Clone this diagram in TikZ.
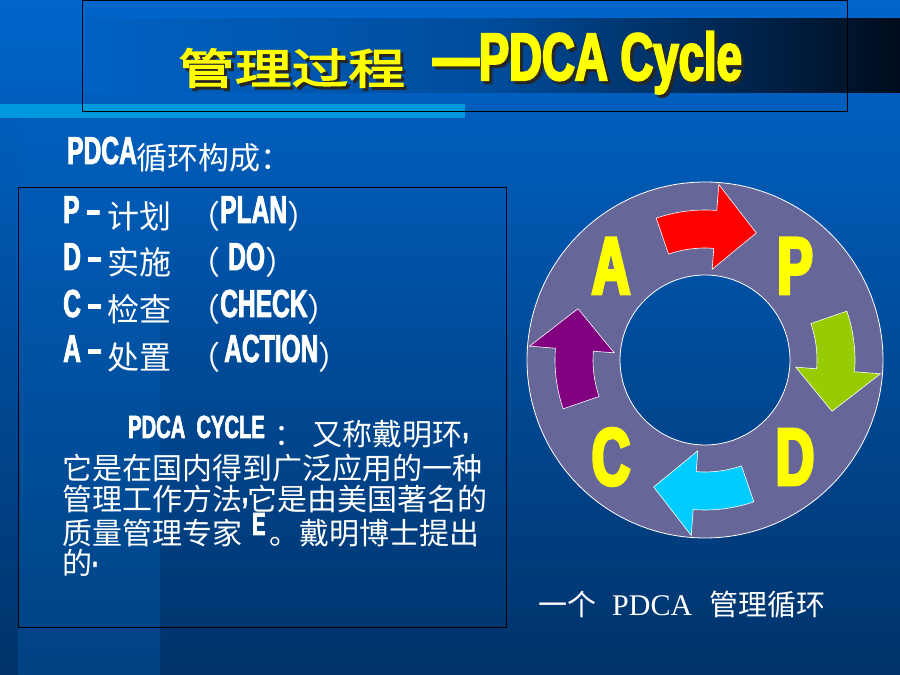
\documentclass[tikz,border=0pt]{standalone}
\usepackage{fontspec}
\usepackage{xcolor}
\usepackage{tikz}

\newfontfamily\cnfont{Noto Sans CJK SC}
\newfontfamily\cnttlfont[FakeStretch=1.35,FakeBold=3.5]{Noto Sans CJK SC}
\newfontfamily\latfont[UprightFont={* Bold},FakeStretch=0.63,FakeBold=2]{Liberation Sans}
\newfontfamily\ttlfont[UprightFont={* Bold},FakeStretch=0.68,FakeBold=3]{Liberation Sans}
\newfontfamily\ringfont[UprightFont={* Bold},FakeStretch=0.66,FakeBold=4]{Liberation Sans}
\newfontfamily\capfont{Liberation Serif}

\definecolor{bgtop}{HTML}{0066CC}
\definecolor{bgbot}{HTML}{00336A}
\definecolor{striptop}{HTML}{005EBC}
\definecolor{stripbot}{HTML}{004282}
\definecolor{bandleft}{HTML}{0062C4}
\definecolor{bandmid}{HTML}{004C9C}
\definecolor{bandright}{HTML}{000C1C}
\definecolor{lightstrip}{HTML}{0099DD}
\definecolor{ringfill}{HTML}{666699}
\definecolor{arrowred}{HTML}{FF0000}
\definecolor{arrowgreen}{HTML}{99CC00}
\definecolor{arrowcyan}{HTML}{00CCFF}
\definecolor{arrowpurple}{HTML}{800080}
\definecolor{ttlyellow}{HTML}{FFFF00}

\newcommand\latbox[2]{\raisebox{#1}{\latfont\fontsize{39}{39}\selectfont #2}}
\newcommand\latpar[2]{\raisebox{#1}{\latfont\fontsize{32}{32}\selectfont #2}}
\newcommand\cnbig{\cnfont\fontsize{32}{32}\selectfont}
\newcommand\cnpar{\cnfont\fontsize{30}{30}\selectfont}

\begin{document}
\begin{tikzpicture}[x=1pt, y=1pt,
    txt/.style={anchor=base west, inner sep=0pt, text=white},
    ttlcn/.style={anchor=base west, inner sep=0pt, font=\cnttlfont\fontsize{42}{42}\selectfont},
    ttlen/.style={anchor=base west, inner sep=0pt, font=\ttlfont\fontsize{67}{67}\selectfont},
    ringletter/.style={inner sep=0pt, text=ttlyellow, font=\ringfont\fontsize{81}{81}\selectfont},
    boxline/.style={draw=black, line width=1pt}]
    \useasboundingbox (0,0) rectangle (900,675);

    \shade[top color=bgtop, bottom color=bgbot] (0,0) rectangle (900,675);
    \shade[top color=striptop, bottom color=stripbot] (18,0) rectangle (160,557);
    \shade[left color=bandleft, right color=bandright, middle color=bandmid] (82,582) rectangle (900,656);
    \fill[lightstrip] (0,557) rectangle (465,571);
    \draw[boxline] (82,563) rectangle (847,674.5);

    \node[ttlcn, text=black!85] (ttlcnshadow) at (181,588) {管理过程};
    \node[ttlcn, text=ttlyellow] (ttlcn) at (178,591) {管理过程};
    \node[ttlen, text=black!85] (ttlenshadow) at (436,592) {—PDCA Cycle};
    \node[ttlen, text=ttlyellow] (ttlen) at (433,595) {—PDCA Cycle};

    \node[txt] (hdr) at (67,505) {\latbox{6pt}{PDCA}\cnfont\fontsize{31}{31}\selectfont 循环构成：};

    \draw[boxline] (18,47) rectangle (506,487);
    \node[txt] (lineP) at (63,446) {\makebox[44pt][l]{\latbox{6pt}{P –}}\cnbig 计划\hspace{17pt}（\latbox{6pt}{PLAN}）};
    \node[txt] (lineD) at (63,400) {\makebox[44pt][l]{\latbox{5pt}{D –}}\cnbig 实施\hspace{17pt}（\hspace{8pt}\latbox{5pt}{DO}）};
    \node[txt] (lineC) at (63,353) {\makebox[44pt][l]{\latbox{5pt}{C –}}\cnbig 检查\hspace{17pt}（\latbox{5pt}{CHECK}）};
    \node[txt] (lineA) at (63,305) {\makebox[44pt][l]{\latbox{8pt}{A –}}\cnbig 处置\hspace{17pt}（\hspace{4pt}\latbox{8pt}{ACTION}）};

    \node[txt] (par1) at (128,229) {\latpar{8pt}{PDCA\ \ CYCLE}\hspace{10pt}\cnpar ：\hspace{8pt}又称戴明环\latpar{8pt}{,}};
    \node[txt] (par2) at (62,195) {\cnpar 它是在国内得到广泛应用的一种};
    \node[txt] (par3) at (62,164) {\cnpar 管理工作方法\latpar{8pt}{,}它是由美国著名的};
    \node[txt] (par4) at (62,130) {\cnpar 质量管理专家\hspace{10pt}\latpar{10pt}{E}\hspace{4pt}。戴明博士提出};
    \node[txt] (par5) at (62,100) {\cnpar 的\latpar{0pt}{·}};

    \begin{scope}[shift={(705,315)}]
        \filldraw[fill=ringfill, draw=white, line width=0.8pt, even odd rule]
            (0,0) circle[radius=178] (0,0) circle[radius=85];
        \foreach \t/\c in {109/arrowred, 19/arrowgreen, -71/arrowcyan, -161/arrowpurple} {
            \pgfmathsetmacro\b{\t-23.5}
            \pgfmathsetmacro\e{\t-41}
            \filldraw[fill=\c, draw=white, line width=0.6pt]
                (\t:112) arc[start angle=\t, end angle=\b, radius=112] -- (\b:91) -- (\e:137)
                -- (\b:176) -- (\b:150) arc[start angle=\b, end angle=\t, radius=150] -- cycle;
        }
    \end{scope}

    \node[ringletter] (letA) at (611,409) {A};
    \node[ringletter] (letP) at (795,409) {P};
    \node[ringletter] (letC) at (611,218) {C};
    \node[ringletter] (letD) at (795,218) {D};

    \node[txt] (cap) at (538,59) {\cnfont\fontsize{29}{29}\selectfont 一个\hspace{16pt}{\capfont\fontsize{30}{30}\selectfont PDCA}\hspace{17pt}管理循环};
\end{tikzpicture}
\end{document}
